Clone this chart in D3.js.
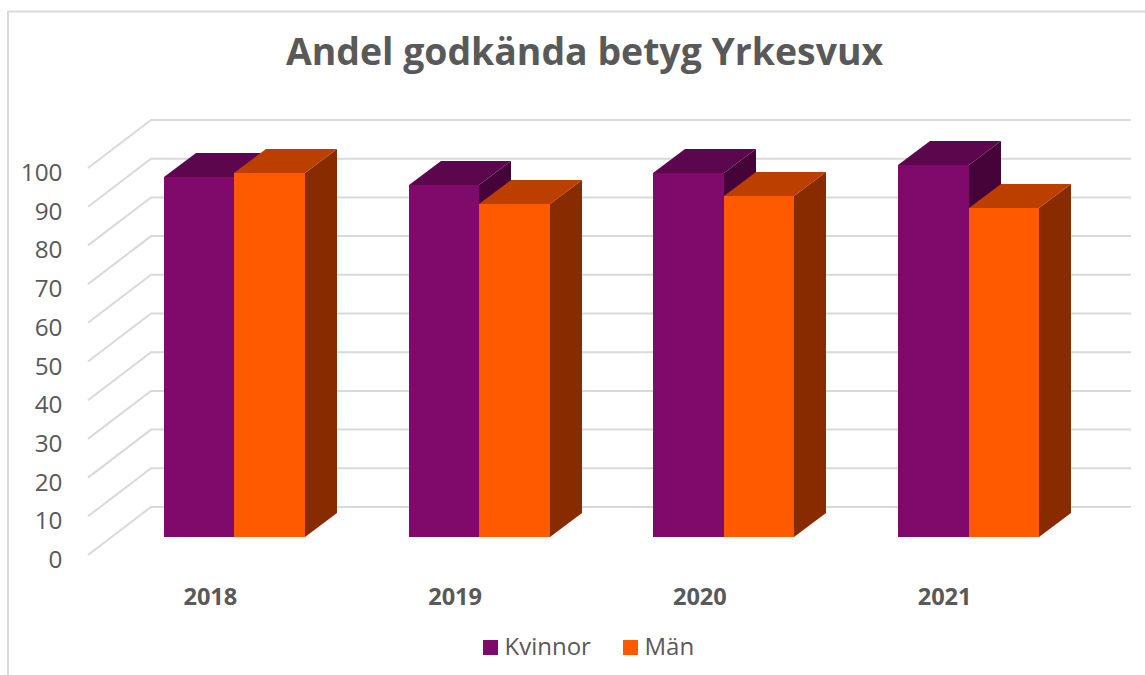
<!DOCTYPE html>
<html><head><meta charset="utf-8">
<script src="https://cdnjs.cloudflare.com/ajax/libs/d3/7.8.5/d3.min.js"></script>
<style>html,body{margin:0;padding:0;background:#fff}svg{display:block}text{font-family:"Open Sans",sans-serif}</style>
</head><body><svg id="c" width="1145" height="675"></svg>
<script>
const categories = ["2018","2019","2020","2021"];
const seriesNames = ["Kvinnor","Män"];
const kvinnor = [93,91,94,96];
const man = [94,86,88,85];
const yTicks = [0,10,20,30,40,50,60,70,80,90,100];
const titleText = "Andel godkända betyg Yrkesvux";
const faceColors = [
  {front:"#7f0a6b",top:"#5c064e",side:"#45033a"},
  {front:"#ff5a00",top:"#bc3f00",side:"#882b00"}
];
const svg = d3.select("#c");
const grid = "#d9d9d9", txt = "#595959";

// chart frame
svg.append("path").attr("d","M8,675V11.5H1145").attr("fill","none").attr("stroke",grid).attr("stroke-width",2);

svg.append("text").attr("x",584.5).attr("y",65).attr("text-anchor","middle")
  .attr("font-size",37.4).attr("font-weight",700).attr("fill",txt).text(titleText);

// y is measured on the bar plane
const y = d3.scaleLinear().domain([0,100]).range([537,150]);
const x0 = d3.scaleBand().domain(categories).range([112,1091]);
const x1 = d3.scaleBand().domain(seriesNames).range([0,141]);
const wall = {dx:39,dy:-30}, floor = {dx:-24,dy:18}, depth = {dx:32,dy:-24};
const rightEnd = 1131;

const g = svg.append("g");
yTicks.forEach(t=>{
  const yb = y(t)+wall.dy, xb = x0.range()[0]+wall.dx;
  g.append("path").attr("d",`M${x0.range()[0]+floor.dx},${y(t)+floor.dy}L${xb},${yb}H${rightEnd}`)
   .attr("fill","none").attr("stroke",grid).attr("stroke-width",2);
  svg.append("text").attr("x",62.5).attr("y",y(t)+floor.dy+13).attr("text-anchor","end")
   .attr("font-size",24.3).attr("fill",txt).text(t);
});

const bars = svg.append("g");
categories.forEach((c,i)=>{
  const center = x0(c)+x0.bandwidth()/2;
  const left = center-70.5;
  seriesNames.forEach((s,k)=>{
    const v = (k===0?kvinnor:man)[i], col = faceColors[k];
    const xa = Math.round(left+x1(s)), xb = Math.round(left+x1(s)+x1.bandwidth()), yt = Math.round(y(v)), yb = Math.round(y(0));
    const d = depth;
    const gb = bars.append("g");
    gb.append("path").attr("fill",col.side)
      .attr("d",`M${xb},${yb}L${xb+d.dx},${yb+d.dy}V${yt+d.dy}L${xb},${yt}Z`);
    gb.append("path").attr("fill",col.top)
      .attr("d",`M${xa},${yt}L${xa+d.dx},${yt+d.dy}H${xb+d.dx}L${xb},${yt}Z`);
    gb.append("rect").attr("x",xa).attr("y",yt).attr("width",xb-xa).attr("height",yb-yt).attr("fill",col.front);
  });
  svg.append("text").attr("x",center-24).attr("y",605).attr("text-anchor","middle")
    .attr("font-size",23.6).attr("font-weight",700).attr("fill",txt).text(c);
});

// legend
const legendX = [483,623];
seriesNames.forEach((s,k)=>{
  svg.append("rect").attr("x",legendX[k]).attr("y",640).attr("width",15).attr("height",15).attr("fill",faceColors[k].front);
  svg.append("text").attr("x",legendX[k]+21.5).attr("y",655).attr("font-size",24).attr("fill",txt).text(s);
});
</script></body></html>
